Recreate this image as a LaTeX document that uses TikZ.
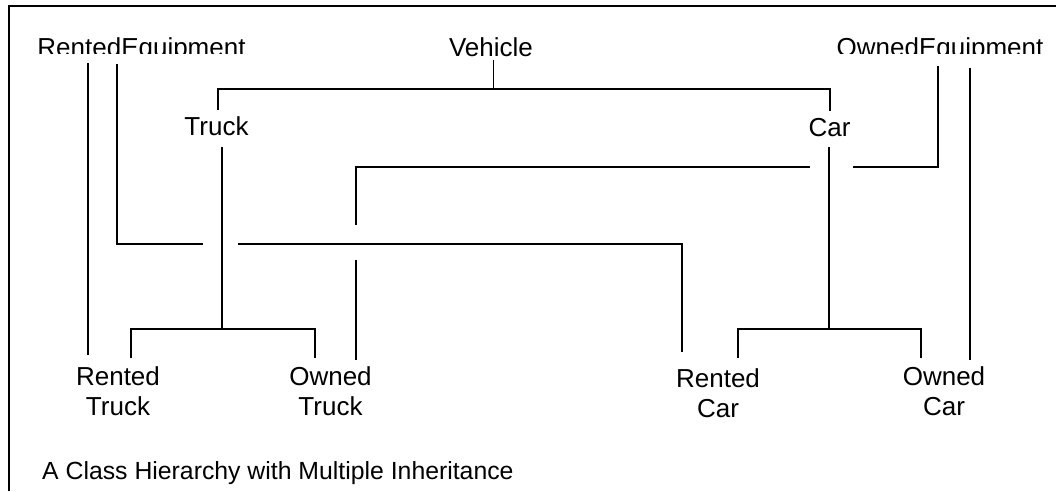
\documentclass[tikz,border=0pt]{standalone}
\usepackage{fontspec}
\setmainfont{Liberation Sans}
\begin{document}
\begin{tikzpicture}[x=1pt,y=-1pt,
  lbl/.style={font=\fontsize{26}{29.5}\selectfont, inner sep=0pt, anchor=base, align=center},
  conn/.style={line width=1.3pt, line cap=butt, line join=miter},
  frame/.style={line width=2pt}]
\useasboundingbox (0,0) rectangle (1056,491);
% frame (only top and left edges visible)
\draw[frame] (9,491) -- (9,6) -- (1056,6);
% labels
\begin{scope}
  \clip (0,0) rectangle (1056,53);
  \node[lbl] (re) at (141.5,56.5) {RentedEquipment};
  \node[lbl] (oe) at (940,56.5) {OwnedEquipment};
\end{scope}
\node[lbl] (veh) at (491,56.5) {Vehicle};
\node[lbl] (truck) at (216.5,135) {Truck};
\node[lbl] (car) at (829.5,136) {Car};
\node[lbl] (rt) at (118,415) {Rented\\Truck};
\node[lbl] (ot) at (330.5,415) {Owned\\Truck};
\node[lbl] (rc) at (718,417) {Rented\\Car};
\node[lbl] (oc) at (944,415) {Owned\\Car};
\node[lbl, font=\fontsize{24.8}{29}\selectfont, anchor=base west] (cap) at (42,479) {A Class Hierarchy with Multiple Inheritance};
% connector end points
\coordinate (vehS) at (493.5,60);
\coordinate (vehJ) at (493.5,89);
\coordinate (truckN) at (218,110);
\coordinate (carN) at (830,111);
\coordinate (truckS) at (222,147);
\coordinate (truckJ) at (222,329);
\coordinate (rtN) at (131,358);
\coordinate (otN) at (315,358);
\coordinate (carS) at (829,147);
\coordinate (carJ) at (829,329);
\coordinate (rcN) at (738,358);
\coordinate (ocN) at (921,358);
\coordinate (reA) at (88,63);
\coordinate (rtR) at (88,355);
\coordinate (reB) at (117,64);
\coordinate (reG) at (203,244);
\coordinate (rcG) at (238,244);
\coordinate (rcR) at (682,352);
\coordinate (oeA) at (970,68);
\coordinate (ocO) at (970,360);
\coordinate (oeB) at (938,66);
\coordinate (oeG) at (853,167);
\coordinate (otG) at (810,167);
\coordinate (otM) at (356,225);
\coordinate (otM2) at (356,260);
\coordinate (otO) at (356,360);
% Vehicle -> Truck, Car
\draw[conn] (vehS) -- (vehJ);
\draw[conn] (truckN) |- (vehJ) -| (carN);
% Truck -> Rented Truck, Owned Truck
\draw[conn] (truckS) -- (truckJ);
\draw[conn] (rtN) |- (truckJ) -| (otN);
% Car -> Rented Car, Owned Car
\draw[conn] (carS) -- (carJ);
\draw[conn] (rcN) |- (carJ) -| (ocN);
% RentedEquipment -> Rented Truck, Rented Car
\draw[conn] (reA) -- (rtR);
\draw[conn] (reB) |- (reG);
\draw[conn] (rcG) -| (rcR);
% OwnedEquipment -> Owned Car, Owned Truck
\draw[conn] (oeA) -- (ocO);
\draw[conn] (oeB) |- (oeG);
\draw[conn] (otG) -| (otM);
\draw[conn] (otM2) -- (otO);
\end{tikzpicture}
\end{document}
